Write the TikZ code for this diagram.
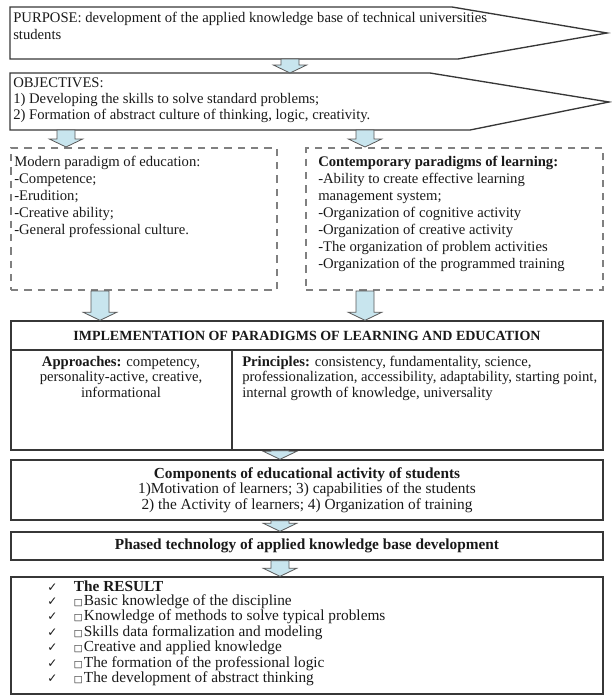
\documentclass[tikz,border=0pt]{standalone}
\usepackage{fontspec}
\setmainfont{Liberation Serif}
\newfontfamily\symfont{DejaVu Sans}
\usetikzlibrary{calc,fit}

\definecolor{arrowblue}{RGB}{200,229,238}
\definecolor{inkgray}{RGB}{55,55,55}

\tikzset{
  boxline/.style={draw=inkgray, line width=1pt},
  solidbox/.style={boxline, inner sep=0pt},
  dashbox/.style={draw=black!50, line width=1.5pt, dash pattern=on 5.5pt off 4.5pt, inner sep=0pt},
  arrowfill/.style={fill=arrowblue, draw=black!65, line width=0.6pt},
  txt/.style={inner sep=0pt, align=left, text=black!90, font=\fontsize{11}{12.75}\selectfont},
}

% block arrow: x position, from anchor, to anchor
\newcommand{\blockarrow}[3]{%
  \draw[arrowfill] let \p1=(#2), \p2=(#3), \p3=(#1,0) in
    (\x3-6.75pt,\y1) -- (\x3+6.75pt,\y1) -- (\x3+6.75pt,\y2+6pt)
    -- (\x3+12.5pt,\y2+6pt) -- (\x3,\y2) -- (\x3-12.5pt,\y2+6pt)
    -- (\x3-6.75pt,\y2+6pt) -- cycle;}
\newcommand{\resitem}[1]{\makebox[20pt][l]{\symfont\small ✓}\makebox[7.5pt][l]{\symfont\scriptsize □}#1}

\begin{document}
\begin{tikzpicture}[x=0.75pt,y=-0.75pt]
  \useasboundingbox (0,0) rectangle (611,696);

  % purpose and objectives
  \draw[boxline] (10,7) -- (452,7) -- (607,33) -- (458,59) -- (10,59) coordinate (psw) -- cycle;
  \node[txt, anchor=north west] (purpose) at (13,12)
    {PURPOSE: development of the applied knowledge base of technical universities\\ students};
  \draw[boxline] (10,73) coordinate (onw) -- (430,73) -- (609,102) -- (470,130)
    -- (10,130) coordinate (osw) -- cycle;
  \node[txt, anchor=north west, font=\fontsize{11}{12}\selectfont] (objectives) at (13,78)
    {OBJECTIVES:\\ 1) Developing the skills to solve standard problems;\\
     2) Formation of abstract culture of thinking, logic, creativity.};

  % paradigms
  \node[dashbox, fit={(11,148) (277,290)}] (edu) {};
  \node[txt, anchor=north west] (edutext) at (14,156)
    {Modern paradigm of education:\\ -Competence;\\ -Erudition;\\ -Creative ability;\\
     -General professional culture.};
  \node[dashbox, fit={(306,148) (603,290)}] (learn) {};
  \node[txt, anchor=north west] (learntext) at (318,156)
    {\textbf{Contemporary paradigms of learning:}\\ -Ability to create effective learning\\
     management system;\\ -Organization of cognitive activity\\ -Organization of creative activity\\
     -The organization of problem activities\\ -Organization of the programmed training};

  % implementation
  \node[solidbox, fit={(11,321) (603,450)}] (impl) {};
  \draw[boxline] (11,350) -- (603,350);
  \draw[boxline] (232,350) -- (232,450);
  \node[txt, font=\fontsize{10.5}{12}\selectfont\bfseries] (impltitle) at (307,336)
    {IMPLEMENTATION OF PARADIGMS OF LEARNING AND EDUCATION};
  \node[txt, align=center, anchor=north, font=\fontsize{11}{11.5}\selectfont] (approach) at (121,356)
    {\textbf{Approaches:} competency,\\ personality-active, creative,\\ informational};
  \node[txt, anchor=north west, font=\fontsize{11}{11.5}\selectfont] (principle) at (242,356)
    {\textbf{Principles:} consistency, fundamentality, science,\\
     professionalization, accessibility, adaptability, starting point,\\
     internal growth of knowledge, universality};

  % components, technology, result
  \node[solidbox, fit={(11,460) (603,520)}] (comp) {};
  \node[txt, align=center, font=\fontsize{11.5}{11.5}\selectfont] (comptext) at (comp.center)
    {\textbf{Components of educational activity of students}\\
     1)Motivation of learners; 3) capabilities of the students\\
     2) the Activity of learners; 4) Organization of training};
  \node[solidbox, fit={(11,532) (603,560)}] (phase) {};
  \node[txt, font=\fontsize{11.5}{12}\selectfont] (phasetext) at (phase.center)
    {\textbf{Phased technology of applied knowledge base development}};
  \node[solidbox, fit={(11,577) (603,694)}] (result) {};
  \node[txt, anchor=north west, font=\fontsize{11.5}{10.2}\selectfont] (resulttext) at (47,581)
    {\makebox[20pt][l]{\symfont\small ✓}\textbf{The RESULT}\\
     \resitem{Basic knowledge of the discipline}\\
     \resitem{Knowledge of methods to solve typical problems}\\
     \resitem{Skills data formalization and modeling}\\
     \resitem{Creative and applied knowledge}\\
     \resitem{The formation of the professional logic}\\
     \resitem{The development of abstract thinking}};

  % arrows
  \blockarrow{290}{psw}{onw}
  \blockarrow{66}{osw}{edu.north}
  \blockarrow{365}{osw}{learn.north}
  \blockarrow{100}{edu.south}{impl.north}
  \blockarrow{365}{learn.south}{impl.north}
  \blockarrow{280}{impl.south}{comp.north}
  \blockarrow{280}{comp.south}{phase.north}
  \blockarrow{280}{phase.south}{result.north}
\end{tikzpicture}
\end{document}
